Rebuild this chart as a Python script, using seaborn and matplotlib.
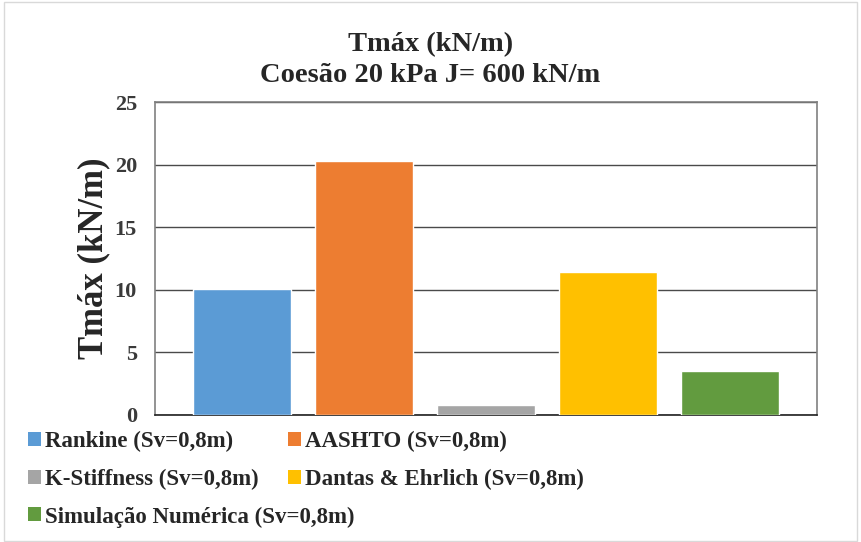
import pandas as pd
import numpy as np
import seaborn as sns
import matplotlib.pyplot as plt
from matplotlib.patches import Patch, Rectangle

# Values
metodos = ['Rankine (Sv=0,8m)', 'AASHTO (Sv=0,8m)', 'K-Stiffness (Sv=0,8m)',
           'Dantas & Ehrlich (Sv=0,8m)', 'Simulação Numérica (Sv=0,8m)']
tmax = [10.1, 20.3, 0.8, 11.4, 3.5]
cores = ['#5B9BD5', '#ED7D31', '#A5A5A5', '#FFC000', '#629B3F']
yticks = [0, 5, 10, 15, 20, 25]

df = pd.DataFrame({'metodo': metodos, 'tmax': tmax})

sns.set_style('white')
plt.rcParams['font.family'] = ['Liberation Serif', 'DejaVu Serif']
plt.rcParams['font.weight'] = 'bold'

fig = plt.figure(figsize=(8.61, 5.42), dpi=100)
ax = fig.add_axes([155 / 861, 1 - 415 / 542, 662 / 861, 313 / 542])

sns.barplot(data=df, x='metodo', y='tmax', hue='metodo', palette=cores,
            order=metodos, hue_order=metodos, width=0.8, legend=False,
            saturation=1, ax=ax, zorder=3)

ax.set_xlim(-0.71, 4.71)
ax.set_ylim(0, 25)
ax.set_yticks(yticks)
ax.set_yticklabels([str(t) for t in yticks], fontsize=16, fontweight='bold', color='#3a3a3a')
ax.set_xticks([])
ax.set_xlabel('')
ax.set_ylabel('Tmáx (kN/m)', fontsize=25, fontweight='bold', labelpad=3)
ax.tick_params(axis='y', length=0, pad=13)
ax.yaxis.grid(True, color='#4a4a4a', linewidth=1, zorder=0)
ax.set_axisbelow(True)

for side in ['left', 'right', 'top']:
    ax.spines[side].set_color('#808080')
    ax.spines[side].set_linewidth(1.2)
ax.spines['bottom'].set_color('#202020')
ax.spines['bottom'].set_linewidth(1.2)

fig.text(0.5, 1 - 60 / 542, 'Tmáx (kN/m)\nCoesão 20 kPa J= 600 kN/m', ha='center', va='center',
         fontsize=20.5, fontweight='bold', linespacing=1.35)

handles = [Patch(facecolor=c, edgecolor='none') for c in cores]
leg_kw = dict(frameon=False, prop={'weight': 'bold', 'size': 16.5},
              handlelength=0.55, handleheight=0.55, handletextpad=0.2, labelspacing=0.72,
              borderpad=0, borderaxespad=0)
leg1 = fig.legend([handles[0], handles[2], handles[4]], [metodos[0], metodos[2], metodos[4]],
                  loc='upper left', bbox_to_anchor=(28 / 861, 1 - 431 / 542), **leg_kw)
leg2 = fig.legend([handles[1], handles[3]], [metodos[1], metodos[3]],
                  loc='upper left', bbox_to_anchor=(288 / 861, 1 - 431 / 542), **leg_kw)

fig.patches.append(Rectangle((4 / 861, 0.002), 1 - 8 / 861, 0.994, transform=fig.transFigure,
                             fill=False, edgecolor='#d9d9d9', linewidth=1))

fig.savefig('out.png', dpi=100)
